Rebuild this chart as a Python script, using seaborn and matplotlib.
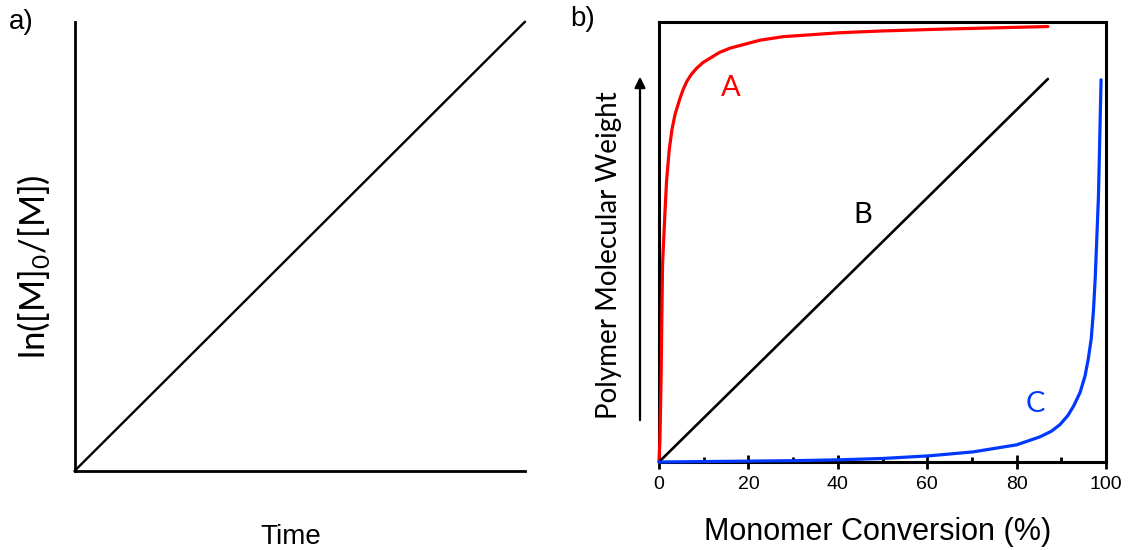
import matplotlib
matplotlib.use("Agg")
import matplotlib.pyplot as plt
from matplotlib.ticker import MultipleLocator
import seaborn as sns
import pandas as pd

# ---- data -------------------------------------------------------------
# a) first-order kinetics: ln([M]0/[M]) grows linearly with time
time_vals = [0.0, 1.0]
ln_ratio_vals = [0.0, 1.0]

# b) molecular weight vs. monomer conversion for three mechanisms
conv_a = [0, 0.2, 0.45, 0.6, 0.8, 1.3, 1.7, 2.3, 2.9, 3.6, 4.7, 5.4, 6.2, 7.2,
          8.4, 9.8, 11.4, 13.5, 15.9, 22.6, 27.8, 40.5, 50, 62.9, 75, 87]
mw_a = [0, 5, 18, 30, 45, 56, 64, 71, 75.5, 79, 82.6, 84.6, 86.4, 88.0,
        89.4, 90.7, 91.7, 93.0, 94.0, 95.8, 96.6, 97.5, 97.9, 98.3, 98.6, 98.9]

conv_b = [0, 87]
mw_b = [0, 87]

conv_c = [0, 10, 20, 30, 40.5, 50, 60.4, 70.3, 80, 85.2, 87.8, 89.7, 91.5,
          92.8, 94.2, 95.3, 96.0, 96.7, 97.2, 97.6, 97.9, 98.3, 98.5, 98.7, 98.9]
mw_c = [0, 0.1, 0.2, 0.3, 0.5, 0.8, 1.4, 2.3, 3.9, 5.7, 7.0, 8.5, 10.6,
        12.8, 15.8, 19.5, 23.2, 28.0, 34.5, 42.0, 49.7, 60.0, 68.6, 78.0, 86.8]

x_ticks = [0, 20, 40, 60, 80, 100]

# ---- style ------------------------------------------------------------
sns.set_theme(style="white")
plt.rcParams["font.family"] = ["Liberation Sans", "DejaVu Sans"]
plt.rcParams["mathtext.fontset"] = "custom"
plt.rcParams["mathtext.rm"] = "Lato"
plt.rcParams["mathtext.default"] = "regular"
plt.rcParams["text.color"] = "black"
plt.rcParams["axes.labelcolor"] = "black"
plt.rcParams["xtick.color"] = "black"
plt.rcParams["ytick.color"] = "black"

HUM = ["Lato", "DejaVu Sans"]
RED = "#FF0000"
BLUE = "#0038FF"
W, H = 1130, 550

fig = plt.figure(figsize=(W / 100, H / 100), dpi=100)
fig.patch.set_facecolor("white")


def px_axes(x0, y_top, x1, y_bot):
    return fig.add_axes([x0 / W, 1 - y_bot / H, (x1 - x0) / W, (y_bot - y_top) / H])


# ---- panel a ----------------------------------------------------------
ax1 = px_axes(74.5, 21.7, 525, 471)
df_a = pd.DataFrame({"Time": time_vals, "ln": ln_ratio_vals})
sns.lineplot(data=df_a, x="Time", y="ln", ax=ax1, color="black", lw=1.7,
             estimator=None, clip_on=False)
ax1.set_xlim(0, 1)
ax1.set_ylim(0, 1)
ax1.set_xticks([])
ax1.set_yticks([])
for side in ("top", "right"):
    ax1.spines[side].set_visible(False)
for side in ("left", "bottom"):
    ax1.spines[side].set_visible(True)
    ax1.spines[side].set_color("black")
    ax1.spines[side].set_linewidth(2.0)
ax1.set_xlabel("Time", fontsize=20)
ax1.xaxis.set_label_coords(0.48, -0.118)
ax1.set_ylabel(r"ln([M]$_0$/[M])", fontsize=25, family=HUM)
ax1.yaxis.set_label_coords(-0.05, 0.454)

# ---- panel b ----------------------------------------------------------
ax2 = px_axes(659, 21.7, 1106, 462)
df_b = pd.concat([
    pd.DataFrame({"conv": conv_a, "mw": mw_a, "curve": "A"}),
    pd.DataFrame({"conv": conv_b, "mw": mw_b, "curve": "B"}),
    pd.DataFrame({"conv": conv_c, "mw": mw_c, "curve": "C"}),
])
sns.lineplot(data=df_b, x="conv", y="mw", hue="curve", ax=ax2,
             palette={"A": RED, "B": "black", "C": BLUE},
             estimator=None, sort=False, legend=False, lw=2.2, clip_on=False)
for ln, w in zip(ax2.lines, (2.3, 1.9, 2.3)):
    ln.set_linewidth(w)
    ln.set_zorder(3)
    ln.set_solid_joinstyle("round")

ax2.set_xlim(0, 100)
ax2.set_ylim(0, 100)
ax2.set_yticks([])
ax2.set_xticks(x_ticks)
ax2.xaxis.set_minor_locator(MultipleLocator(10))
ax2.tick_params(axis="x", which="major", direction="inout", length=10, width=2,
                labelsize=14, pad=5, bottom=True, color="black")
ax2.tick_params(axis="x", which="minor", direction="in", length=3.5, width=2,
                bottom=True, color="black")
for side in ("left", "right", "top", "bottom"):
    ax2.spines[side].set_visible(True)
    ax2.spines[side].set_color("black")
    ax2.spines[side].set_linewidth(2.2)

ax2.set_xlabel("Monomer Conversion (%)", fontsize=22)
ax2.xaxis.set_label_coords(0.488, -0.126)
ax2.set_ylabel("Polymer Molecular Weight", fontsize=20, family=HUM)
ax2.yaxis.set_label_coords(-0.083, 0.47)

# curve labels
ax2.text(16.0, 85.0, "A", color=RED, fontsize=21, family=HUM, ha="center", va="center")
ax2.text(45.7, 56.0, "B", color="black", fontsize=21, family=HUM, ha="center", va="center")
ax2.text(84.2, 13.2, "C", color=BLUE, fontsize=21, family=HUM, ha="center", va="center")

# upward arrow beside the y label
ax2.annotate("", xy=(-0.0425, 0.875), xytext=(-0.0425, 0.095),
             xycoords="axes fraction", textcoords="axes fraction",
             arrowprops=dict(arrowstyle="-|>", color="black", lw=1.6,
                             mutation_scale=16, shrinkA=0, shrinkB=0),
             annotation_clip=False)

# panel letters
fig.text(9 / W, 1 - 22 / H, "a)", fontsize=20, ha="left", va="center")
fig.text(570 / W, 1 - 19 / H, "b)", fontsize=20, ha="left", va="center")

fig.savefig("out.png", dpi=100, facecolor="white")
